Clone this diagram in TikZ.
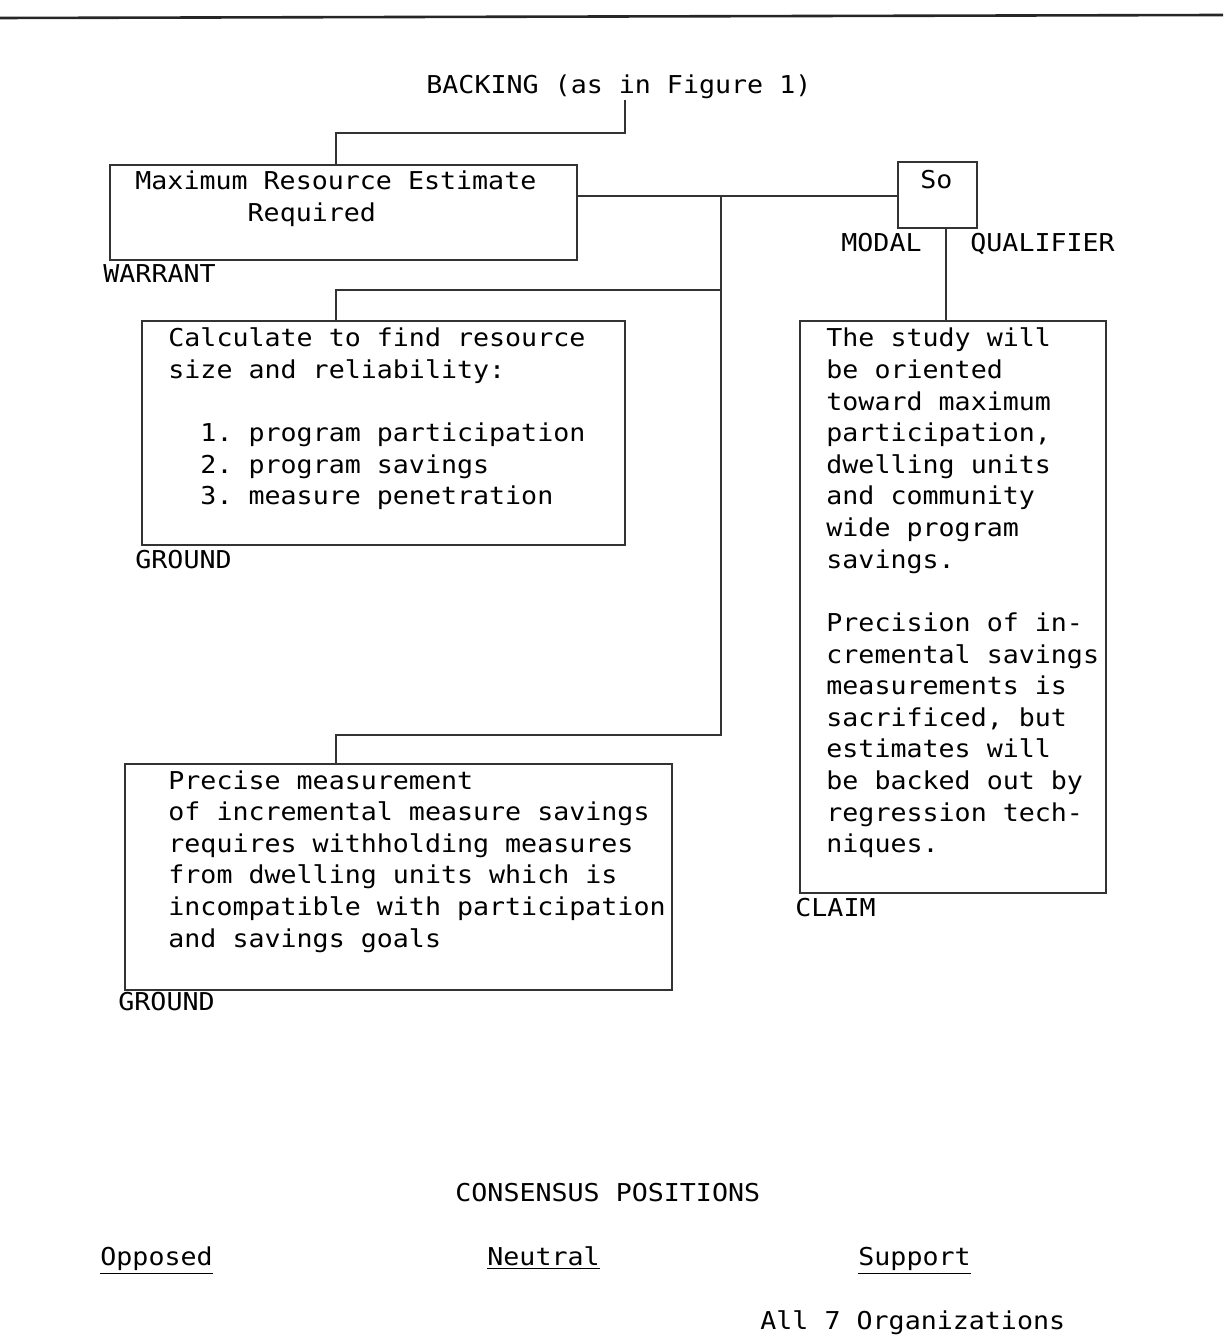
\documentclass[tikz,border=0pt]{standalone}
\usepackage{fontspec}
\usetikzlibrary{fit}
\newfontfamily\typewriter{DejaVu Sans Mono}[FakeStretch=1.083]
% blank columns at the start of a line
\newcommand\pad[1]{\hspace*{#1\fontcharwd\font`0}}
% word spaces as wide as one column
\newcommand\fixedspaces{\spaceskip=\fontcharwd\font`0\relax\xspaceskip=\spaceskip}

\begin{document}
\begin{tikzpicture}[x=0.5pt, y=-0.5pt,
  font=\typewriter\fontsize{12.3}{15.8}\selectfont,
  box/.style={draw=black!80, line width=0.7pt, inner sep=0pt},
  txt/.style={anchor=base west, inner sep=0pt, align=left, text width=260pt,
    execute at begin node=\fixedspaces},
  tag/.style={anchor=base west, inner sep=0pt},
  link/.style={draw=black!80, line width=0.7pt}]
  \useasboundingbox (0,0) rectangle (1223,1336);
  % rule across the head of the page
  \draw[line width=1.3pt, black!85] (0,18) -- (1223,15);

  % backing and warrant
  \node[tag] (backing) at (426,94) {BACKING (as in Figure 1)};
  \node[box, fit={(110,165) (577,260)}] (warrant) {};
  \node[txt] (warranttext) at (135,190) {Maximum Resource Estimate\\\pad{7}Required};
  \node[tag] (warrantlbl) at (103,283) {WARRANT};

  % modal qualifier
  \node[box, fit={(898,162) (977,228)}] (so) {};
  \node[tag] (sotext) at (920,189) {So};
  \node[tag] (modal) at (841,252) {MODAL};
  \node[tag] (qualifier) at (970,252) {QUALIFIER};

  % first ground
  \node[box, fit={(142,321) (625,545)}] (ground1) {};
  \node[txt] (ground1text) at (168,347) {Calculate to find resource\\
    size and reliability:\\[15.8pt]
    \pad{2}1. program participation\\
    \pad{2}2. program savings\\
    \pad{2}3. measure penetration};
  \node[tag] (ground1lbl) at (135,568) {GROUND};

  % second ground
  \node[box, fit={(125,764) (672,990)}] (ground2) {};
  \node[txt] (ground2text) at (168,789) {Precise measurement\\
    of incremental measure savings\\
    requires withholding measures\\
    from dwelling units which is\\
    incompatible with participation\\
    and savings goals};
  \node[tag] (ground2lbl) at (118,1010) {GROUND};

  % claim
  \node[box, fit={(800,321) (1106,893)}] (claim) {};
  \node[txt] (claimtext) at (826,347) {The study will\\
    be oriented\\
    toward maximum\\
    participation,\\
    dwelling units\\
    and community\\
    wide program\\
    savings.\\[15.8pt]
    Precision of in-\\
    cremental savings\\
    measurements is\\
    sacrificed, but\\
    estimates will\\
    be backed out by\\
    regression tech-\\
    niques.};
  \node[tag] (claimlbl) at (795,916) {CLAIM};

  % connecting lines
  \coordinate (bkbend) at (625,133);
  \coordinate (wtop) at (336,165);
  \coordinate (spine) at (721,196);
  \coordinate (g1bend) at (336,290);
  \coordinate (g2bend) at (336,735);
  \coordinate (qual) at (946,0);
  \draw[link] (bkbend |- backing.south) -- (bkbend) -| (wtop);
  \draw[link] (warrant.east |- spine) -- (so.west |- spine);
  \draw[link] (spine) |- (g2bend) -- (g2bend |- ground2.north);
  \draw[link] (spine |- g1bend) -- (g1bend) -- (g1bend |- ground1.north);
  \draw[link] (so.south -| qual) -- (claim.north -| qual);

  % consensus table
  \node[tag] (consensus) at (455,1201) {CONSENSUS POSITIONS};
  \node[tag] (opposed) at (100,1265) {\underline{Opposed}};
  \node[tag] (neutral) at (487,1265) {\underline{Neutral}};
  \node[tag] (support) at (858,1265) {\underline{Support}};
  \node[tag] (orgs) at (760,1329) {All 7 Organizations};
\end{tikzpicture}
\end{document}
